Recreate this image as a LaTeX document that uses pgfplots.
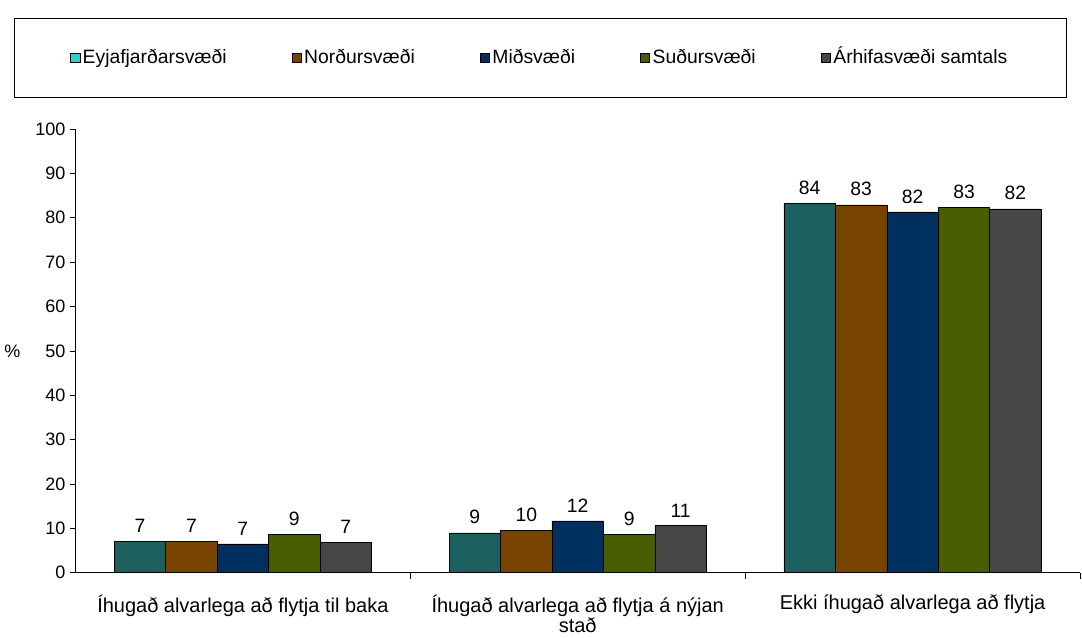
\documentclass[border=0pt]{standalone}
\usepackage{fontspec}
\setmainfont{Liberation Sans}
\usepackage{pgfplots}
\pgfplotsset{compat=1.18}

\definecolor{cteal}{HTML}{1D5F5F}
\definecolor{cbrown}{HTML}{774400}
\definecolor{cnavy}{HTML}{003060}
\definecolor{cgreen}{HTML}{475D00}
\definecolor{cgray}{HTML}{464646}
\definecolor{ccyan}{HTML}{33CCCC}

\begin{document}
\begin{tikzpicture}
\begin{axis}[
    scale only axis,
    width=753.75pt, height=333pt,
    ybar=0pt, bar width=38.6pt,
    ymin=0, ymax=100, ytick={0,10,...,100},
    xmin=-0.5, xmax=2.5,
    xtick={0,1,2},
    xticklabels={{Íhugað alvarlega að flytja til baka},
                 {Íhugað alvarlega að flytja á nýjan\\stað},
                 {Ekki íhugað alvarlega að flytja}},
    xticklabel style={align=center, yshift=-9pt,
        font=\fontsize{15}{15.5}\selectfont},
    major x tick style={draw=none},
    minor xtick={0.5,1.5,2.5},
    tick align=outside,
    tick style={black, thin},
    major tick length=4pt, minor tick length=4.5pt,
    axis lines*=left,
    axis line style={black, thin},
    /pgf/number format/assume math mode=true,
    yticklabel style={font=\fontsize{13.5}{14}\selectfont},
    ylabel={\%},
    ylabel style={rotate=-90, at={(axis description cs:-0.0627,0.5)}, anchor=center,
        font=\fontsize{13.5}{14}\selectfont},
    nodes near coords, point meta=explicit symbolic,
    every node near coord/.append style={font=\fontsize{14.5}{15}\selectfont, yshift=3pt},
    legend columns=5,
    legend style={at={(axis description cs:0.4627,1)}, anchor=south, yshift=23.25pt,
        draw=black, thin, inner xsep=42pt, inner ysep=21pt,
        font=\fontsize{14.5}{15}\selectfont,
        nodes={text height=10.5pt, text depth=3pt},
        /tikz/every even column/.append style={column sep=47pt}},
    legend image code/.code={\draw[#1] (0pt,-3.4pt) rectangle (6.8pt,3.4pt);},
]
\addplot[fill=cteal, draw=black,
    legend image code/.code={\draw[fill=ccyan,draw=black] (0pt,-3.4pt) rectangle (6.8pt,3.4pt);}]
    coordinates {(0,7.0)[7] (1,9.0)[9] (2,83.3)[84]};
\addplot[fill=cbrown, draw=black] coordinates {(0,7.0)[7] (1,9.5)[10] (2,82.9)[83]};
\addplot[fill=cnavy, draw=black] coordinates {(0,6.5)[7] (1,11.7)[12] (2,81.3)[82]};
\addplot[fill=cgreen, draw=black] coordinates {(0,8.6)[9] (1,8.6)[9] (2,82.4)[83]};
\addplot[fill=cgray, draw=black] coordinates {(0,6.8)[7] (1,10.6)[11] (2,82.0)[82]};
\legend{Eyjafjarðarsvæði, Norðursvæði, Miðsvæði, Suðursvæði, Árhifasvæði samtals}
\coordinate (o) at (rel axis cs:0,0);
\end{axis}
\path (o) ++(-56.25pt,-47.25pt) rectangle ++(811.5pt,477pt);
\end{tikzpicture}
\end{document}
